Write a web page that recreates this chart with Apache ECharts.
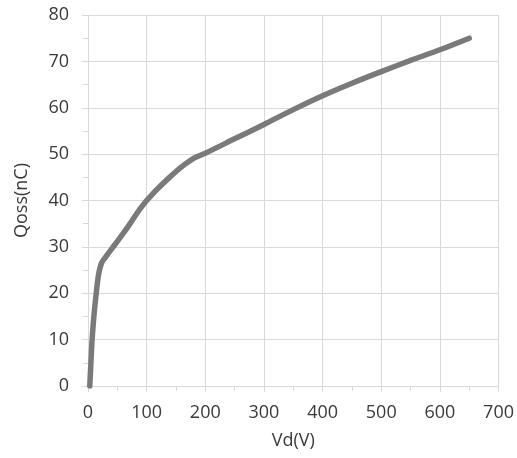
<!DOCTYPE html>
<html>
<head>
<meta charset="utf-8">
<script src="https://cdn.jsdelivr.net/npm/echarts@6/dist/echarts.min.js"></script>
<style>
html,body{margin:0;padding:0;background:#fff;}
#c{width:517px;height:458px;}
</style>
</head>
<body>
<div id="c"></div>
<script>
var vd = [3, 5, 7, 10, 14, 18, 23, 30, 40, 50, 60, 70, 80, 90, 100, 110, 120, 140, 160, 180, 200, 250, 300, 350, 400, 450, 500, 550, 600, 650];
var qoss = [0, 5, 10, 15, 20, 24, 26.5, 27.8, 29.5, 31.2, 32.9, 34.7, 36.6, 38.4, 40.0, 41.4, 42.7, 45.1, 47.3, 49.1, 50.2, 53.3, 56.4, 59.6, 62.6, 65.3, 67.8, 70.2, 72.5, 75];
var xTicks = [0, 100, 200, 300, 400, 500, 600, 700];
var yTicks = [0, 10, 20, 30, 40, 50, 60, 70, 80];

var data = vd.map(function (v, i) { return [v, qoss[i]]; });
var chart = echarts.init(document.getElementById('c'));
var font = '"Open Sans", sans-serif';
var gridColor = '#d9d9d9';
chart.setOption({
  backgroundColor: '#ffffff',
  animation: false,
  grid: { left: 88, right: 16, top: 15, bottom: 72 },
  xAxis: {
    type: 'value',
    min: xTicks[0], max: xTicks[xTicks.length - 1], interval: 100,
    name: 'Vd(V)', nameLocation: 'middle', nameGap: 46,
    nameTextStyle: { fontFamily: font, fontSize: 18, color: '#3a3a3a' },
    axisLine: { show: true, lineStyle: { color: gridColor, width: 1 } },
    axisTick: { show: true, length: 6, lineStyle: { color: gridColor } },
    minorTick: { show: true, splitNumber: 2, length: 5, lineStyle: { color: gridColor } },
    axisLabel: { fontFamily: font, fontSize: 18, color: '#3a3a3a', margin: 18 },
    splitLine: { show: true, lineStyle: { color: gridColor, width: 1 } }
  },
  yAxis: {
    type: 'value',
    min: yTicks[0], max: yTicks[yTicks.length - 1], interval: 10,
    name: 'Qoss(nC)', nameLocation: 'middle', nameGap: 57, nameRotate: 90,
    nameTextStyle: { fontFamily: font, fontSize: 18, color: '#3a3a3a' },
    axisLine: { show: true, lineStyle: { color: gridColor, width: 1 } },
    axisTick: { show: true, length: 6, lineStyle: { color: gridColor } },
    minorTick: { show: true, splitNumber: 2, length: 5, lineStyle: { color: gridColor } },
    axisLabel: { fontFamily: font, fontSize: 18, color: '#3a3a3a', margin: 19 },
    splitLine: { show: true, lineStyle: { color: gridColor, width: 1 } }
  },
  series: [{
    type: 'line',
    data: data,
    showSymbol: false,
    smooth: 0.3,
    lineStyle: { color: '#7a7a7a', width: 5.5, cap: 'round', join: 'round' }
  }]
});
</script>
</body>
</html>
